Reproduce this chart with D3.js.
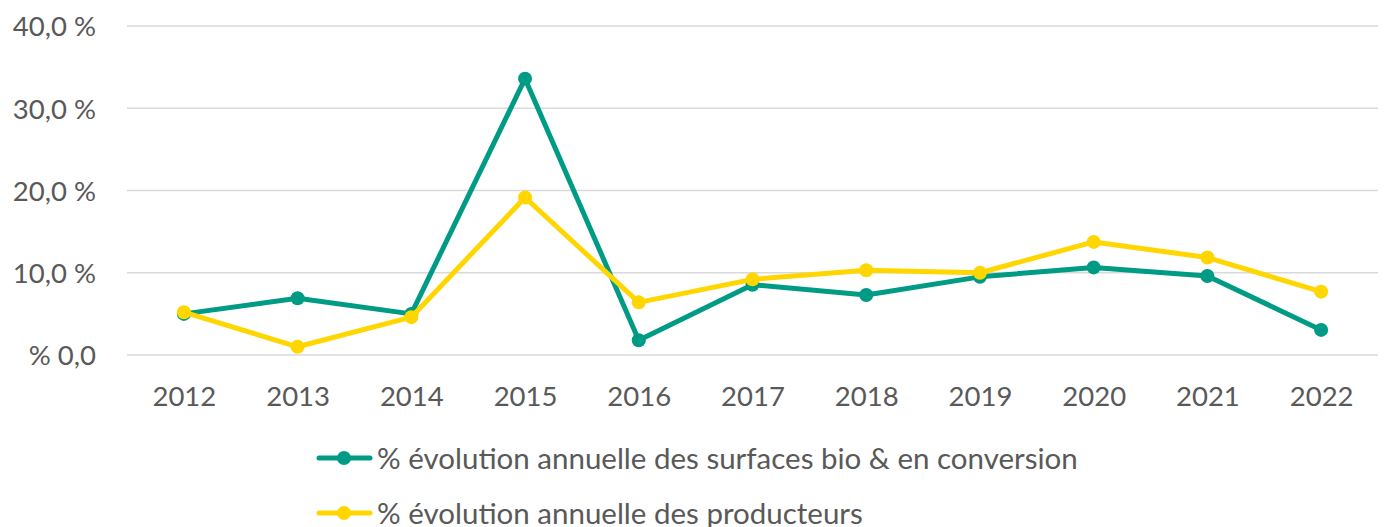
<!DOCTYPE html>
<html>
<head>
<meta charset="utf-8">
<script src="https://cdn.jsdelivr.net/npm/d3@7"></script>
<style>
  body { margin: 0; background: #fff; }
  text { font-family: Lato, "Open Sans", sans-serif; fill: #595959; }
</style>
</head>
<body>
<div id="chart"></div>
<script>
// données
const years = ["2012", "2013", "2014", "2015", "2016", "2017", "2018", "2019", "2020", "2021", "2022"];
const surfaces = [5.0, 6.9, 5.0, 33.6, 1.8, 8.55, 7.3, 9.5, 10.65, 9.6, 3.05];
const producteurs = [5.2, 1.0, 4.6, 19.15, 6.4, 9.2, 10.3, 10.0, 13.75, 11.85, 7.7];
const yTicks = [0, 10, 20, 30, 40];
const yTickLabels = ["% 0,0", "10,0 %", "20,0 %", "30,0 %", "40,0 %"];
const seriesNames = [
  "% évolution annuelle des surfaces bio & en conversion",
  "% évolution annuelle des producteurs"
];
const colors = ["#009B85", "#FFD600"];

const width = 1384, height = 527;
const plotLeft = 127, plotRight = 1378, plotTop = 26, plotBottom = 355;

const svg = d3.select("#chart").append("svg")
  .attr("width", width)
  .attr("height", height);

const x = d3.scalePoint().domain(years).range([plotLeft, plotRight]).padding(0.5);
const y = d3.scaleLinear().domain([0, 40]).range([plotBottom, plotTop]);

// grille
svg.append("g")
  .selectAll("line")
  .data(yTicks)
  .enter().append("line")
  .attr("x1", plotLeft).attr("x2", plotRight)
  .attr("y1", d => y(d)).attr("y2", d => y(d))
  .attr("stroke", "#d9d9d9")
  .attr("stroke-width", 1.5);

// axe y
const yAxis = d3.axisLeft(y).tickValues(yTicks)
  .tickFormat((d, i) => yTickLabels[i]).tickSize(0).tickPadding(0);
const gy = svg.append("g").attr("transform", "translate(96,0)").call(yAxis);
gy.select(".domain").remove();
gy.selectAll("text").attr("font-size", 27.5).attr("dy", "0.36em")
  .style("font-family", "Lato, sans-serif").attr("fill", "#595959");

// axe x
const xAxis = d3.axisBottom(x).tickSize(0).tickPadding(0);
const gx = svg.append("g").attr("transform", "translate(0,396)").call(xAxis);
gx.select(".domain").remove();
gx.selectAll("text").attr("font-size", 27.5).attr("dy", "0.36em")
  .style("font-family", "Lato, sans-serif").attr("fill", "#595959");

const line = d3.line().x((d, i) => x(years[i])).y(d => y(d));

[surfaces, producteurs].forEach(function(vals, k) {
  const g = svg.append("g");
  g.append("path")
    .datum(vals)
    .attr("d", line)
    .attr("fill", "none")
    .attr("stroke", colors[k])
    .attr("stroke-width", 5)
    .attr("stroke-linejoin", "round");
  g.selectAll("circle")
    .data(vals)
    .enter().append("circle")
    .attr("cx", (d, i) => x(years[i]))
    .attr("cy", d => y(d))
    .attr("r", 7)
    .attr("fill", colors[k]);
});

// légende
const legend = svg.append("g");
seriesNames.forEach(function(name, k) {
  const ly = 458 + k * 55;
  legend.append("line")
    .attr("x1", 319).attr("x2", 370)
    .attr("y1", ly).attr("y2", ly)
    .attr("stroke", colors[k]).attr("stroke-width", 5)
    .attr("stroke-linecap", "round");
  legend.append("circle")
    .attr("cx", 344).attr("cy", ly).attr("r", 7)
    .attr("fill", colors[k]);
  legend.append("text")
    .attr("x", 377).attr("y", ly)
    .attr("dy", "0.36em")
    .attr("font-size", 29.5)
    .text(name);
});
</script>
</body>
</html>
